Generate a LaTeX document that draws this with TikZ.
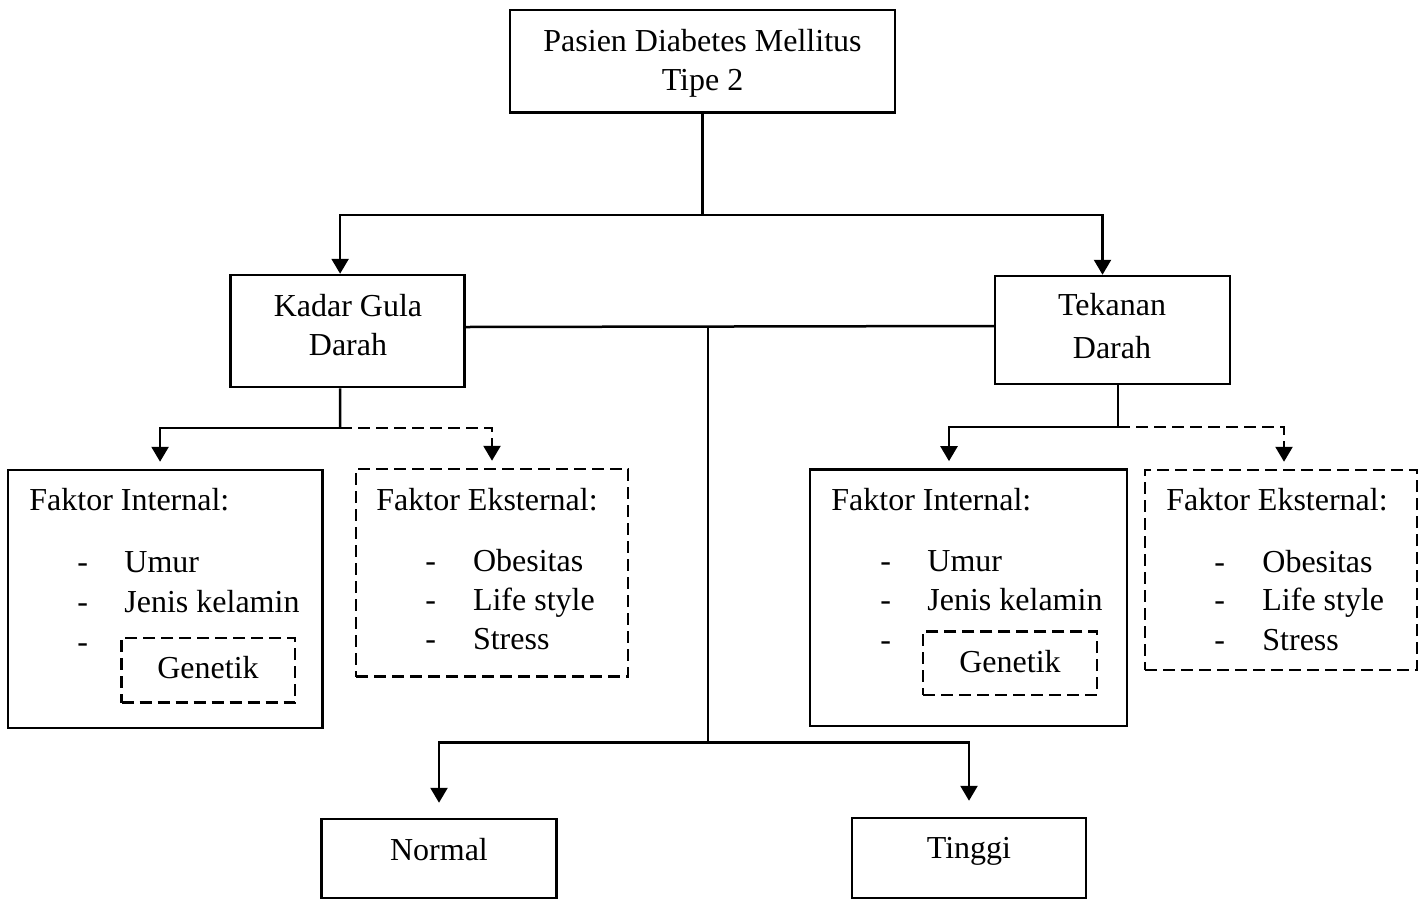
\documentclass[tikz,border=0pt]{standalone}
\usepackage{fontspec}
\setmainfont{Liberation Serif}
\usetikzlibrary{arrows.meta}

\tikzset{
  box/.style={draw, line width=1.25pt, inner sep=0pt},
  dbox/.style={box, dash pattern=on 6pt off 3pt},
  txt/.style={inner sep=0pt, anchor=base west},
  ctxt/.style={inner sep=0pt, anchor=base},
  conn/.style={line width=1.25pt},
  arr/.style={conn, -{Triangle[width=8.5pt,length=7.5pt]}},
  darr/.style={arr, dash pattern=on 6pt off 3pt},
}

\begin{document}
\begin{tikzpicture}[x=0.5pt,y=-0.5pt,font=\fontsize{16}{20}\selectfont]
    \useasboundingbox (0,0) rectangle (1427,900);

    \node[box,minimum width=192.5pt,minimum height=51.3pt] (top) at (702.5,61.3) {};
    \node[ctxt] (toptxa) at (702.5,51.7) {Pasien Diabetes Mellitus};
    \node[ctxt] (toptxb) at (702.5,90) {Tipe 2};

    \node[box,minimum width=117pt,minimum height=56pt] (kadar) at (347.6,331) {};
    \node[ctxt] (kadartxa) at (348,316.7) {Kadar Gula};
    \node[ctxt] (kadartxb) at (348,355) {Darah};

    \node[box,minimum width=117.5pt,minimum height=54pt] (tekanan) at (1112.5,330) {};
    \node[ctxt] (tekanantxa) at (1112,315) {Tekanan};
    \node[ctxt] (tekanantxb) at (1112,358) {Darah};

    \node[box,minimum width=157.25pt,minimum height=129pt] (lint) at (165.25,599) {};
    \node[txt] (linth) at (29,510) {Faktor Internal:};
    \node[txt] (lintda) at (77,572) {-};
    \node[txt] (lintdb) at (77,612) {-};
    \node[txt] (lintdc) at (77,652) {-};
    \node[txt] (lintia) at (124,572) {Umur};
    \node[txt] (lintib) at (124,612) {Jenis kelamin};
    \node[dbox,minimum width=86.75pt,minimum height=32.3pt] (lgen) at (208.3,670.3) {};
    \node[ctxt] (lgentx) at (208,678) {Genetik};

    \node[dbox,minimum width=136pt,minimum height=103.8pt] (leks) at (492,572.8) {};
    \node[txt] (leksh) at (376,510) {Faktor Eksternal:};
    \node[txt] (leksda) at (425,571) {-};
    \node[txt] (leksdb) at (425,610) {-};
    \node[txt] (leksdc) at (425,649) {-};
    \node[txt] (leksia) at (472.6,571) {Obesitas};
    \node[txt] (leksib) at (472.6,610) {Life style};
    \node[txt] (leksic) at (472.6,649) {Stress};

    \node[box,minimum width=158.5pt,minimum height=128.3pt] (rint) at (968.5,597.7) {};
    \node[txt] (rinth) at (831,510) {Faktor Internal:};
    \node[txt] (rintda) at (880,571) {-};
    \node[txt] (rintdb) at (880,610) {-};
    \node[txt] (rintdc) at (880,650) {-};
    \node[txt] (rintia) at (927,571) {Umur};
    \node[txt] (rintib) at (927,610) {Jenis kelamin};
    \node[dbox,minimum width=87pt,minimum height=31.7pt] (rgen) at (1010,663.3) {};
    \node[ctxt] (rgentx) at (1010,672) {Genetik};

    \node[dbox,minimum width=136pt,minimum height=100pt] (reks) at (1281,570) {};
    \node[txt] (reksh) at (1166,510) {Faktor Eksternal:};
    \node[txt] (reksda) at (1214,572) {-};
    \node[txt] (reksdb) at (1214,610) {-};
    \node[txt] (reksdc) at (1214,650) {-};
    \node[txt] (reksia) at (1262,572) {Obesitas};
    \node[txt] (reksib) at (1262,610) {Life style};
    \node[txt] (reksic) at (1262,650) {Stress};

    \node[box,minimum width=117.5pt,minimum height=39.5pt] (normal) at (439,858.5) {};
    \node[ctxt] (normaltx) at (439,860) {Normal};
    \node[box,minimum width=117pt,minimum height=40pt] (tinggi) at (969,858) {};
    \node[ctxt] (tinggitx) at (969,858) {Tinggi};

    \coordinate (j1) at (702.5,215);
    \coordinate (j2) at (708,327);
    \coordinate (j3) at (708,742.5);
    \coordinate (k1) at (340,428);
    \coordinate (k2) at (1118,427);

    \draw[conn] (top.south) -- (j1);
    \draw[arr] (j1) -| ([xshift=-3.75pt]kadar.north);
    \draw[arr] (j1) -| ([xshift=-5pt]tekanan.north);

    \draw[conn] ([yshift=2pt]kadar.east) -- ([yshift=2pt]tekanan.west);
    \draw[conn] (j2) -- (j3);
    \draw[arr,shorten >=7.5pt] (j3) -| (normal.north);
    \draw[arr,shorten >=8pt] (j3) -| (tinggi.north);

    \draw[conn] ([xshift=-3.75pt]kadar.south) -- (k1);
    \draw[arr,shorten >=3.5pt] (k1) -| ([xshift=-2.6pt]lint.north);
    \draw[darr,shorten >=3.5pt] (k1) -| (leks.north);

    \draw[conn] ([xshift=2.75pt]tekanan.south) -- (k2);
    \draw[arr,shorten >=3.5pt] (k2) -| ([xshift=-9.75pt]rint.north);
    \draw[darr,shorten >=3.5pt] (k2) -| ([xshift=1.5pt]reks.north);
\end{tikzpicture}
\end{document}
